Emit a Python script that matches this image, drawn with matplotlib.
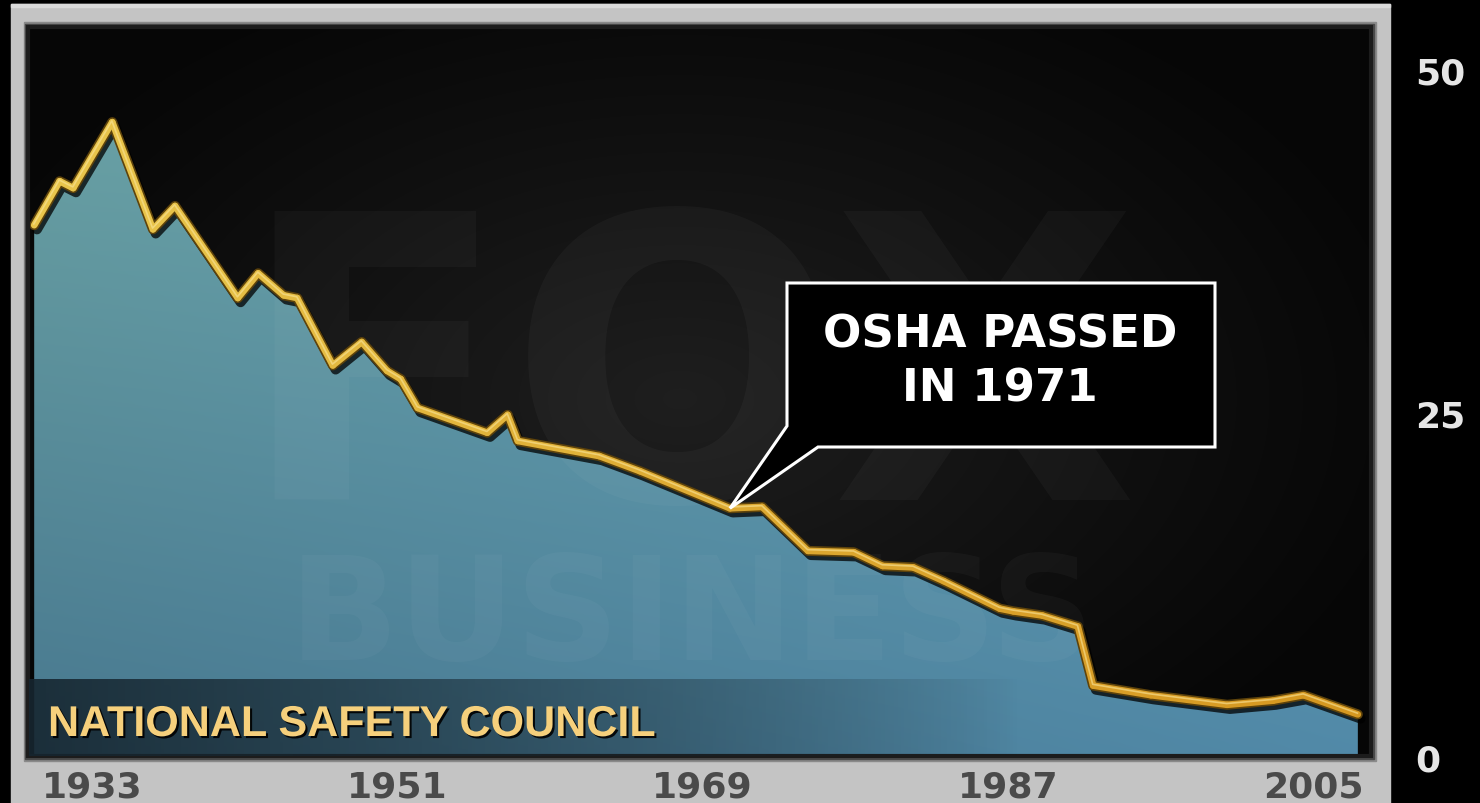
import matplotlib
matplotlib.use("Agg")
import matplotlib.pyplot as plt
import matplotlib.patheffects as pe
from matplotlib.collections import LineCollection
from matplotlib.colors import LinearSegmentedColormap
from matplotlib.patches import Polygon, Rectangle
import numpy as np

# mortes no trabalho por 100 mil trabalhadores
anos = [1929.6, 1931.1, 1931.9, 1934.2, 1936.6, 1937.9, 1941.6, 1942.8, 1944.3, 1945.1,
        1947.2, 1948.9, 1950.4, 1951.2, 1952.2, 1956.3, 1957.5, 1958.1, 1962.9, 1965.3,
        1970.6, 1972.5, 1975.2, 1977.9, 1979.6, 1981.4, 1983.2, 1986.5, 1987.3, 1989.0,
        1991.1, 1992.0, 1995.4, 1999.9, 2002.6, 2004.4, 2007.6]
taxa = [38.7, 41.9, 41.4, 46.2, 38.4, 40.1, 33.4, 35.2, 33.6, 33.4,
        28.5, 30.2, 28.1, 27.5, 25.4, 23.6, 24.9, 23.0, 21.9, 20.8,
        18.1, 18.2, 15.0, 14.9, 13.9, 13.8, 12.8, 10.8, 10.6, 10.3,
        9.5, 5.2, 4.5, 3.8, 4.1, 4.5, 3.1]
anos_rotulo = [1933, 1951, 1969, 1987, 2005]
taxa_rotulo = [0, 25, 50]
fonte = "NATIONAL SAFETY COUNCIL"
nota = ["OSHA PASSED", "IN 1971"]
ano_nota = 1970.6

W, H = 1480, 804
fig = plt.figure(figsize=(W / 100, H / 100), dpi=100, facecolor="black")

# moldura prateada (coordenadas em pixels)
fundo = fig.add_axes([0, 0, 1, 1], zorder=0)
fundo.set_xlim(0, W)
fundo.set_ylim(H, 0)
fundo.axis("off")
fundo.add_patch(Rectangle((11, 5), 1379, 810, color="#c4c4c4"))
fundo.add_patch(Rectangle((11, 5), 1379, 3, color="#dadada"))
fundo.add_patch(Rectangle((24, 23), 1352, 739, color="#8a8a8a"))
fundo.add_patch(Rectangle((25, 25), 1349, 735, color="#4a4a4a"))

# painel do grafico
px0, px1, py0, py1 = 27, 1372, 27, 758
ax = fig.add_axes([px0 / W, (H - py1) / H, (px1 - px0) / W, (py1 - py0) / H], zorder=1)

# sobreposicao em pixels
topo = fig.add_axes([0, 0, 1, 1], zorder=2)
topo.set_xlim(0, W)
topo.set_ylim(H, 0)
topo.axis("off")
topo.patch.set_alpha(0)

# escala: pixel x = 702.8 + 16.97*(ano-1969), pixel y = 759 - 13.76*taxa
def ano_de_px(x):
    return 1969 + (x - 702.8) / 16.97

def taxa_de_px(y):
    return (759 - y) / 13.76

# fundo escuro com brilho no centro
gx, gy = np.meshgrid(np.linspace(px0, px1, 300), np.linspace(py0, py1, 200))
d = np.sqrt(((gx - 680) / 760) ** 2 + ((gy - 400) / 470) ** 2)
v = 0.025 + 0.095 * np.clip(1 - d, 0, 1) ** 1.1
ax.imshow(np.dstack([v, v, v]), extent=[0, 1, 0, 1], transform=ax.transAxes,
          aspect="auto", zorder=0, interpolation="bilinear")

# area preenchida com degrade
tx = (gx - px0) / (px1 - px0)
ty = (gy - py0) / (py1 - py0)
tl = np.array([0.43, 0.65, 0.65])
tr = np.array([0.42, 0.68, 0.76])
bl = np.array([0.28, 0.47, 0.56])
br = np.array([0.32, 0.54, 0.66])
topo_c = tl * (1 - tx[..., None]) + tr * tx[..., None]
base_c = bl * (1 - tx[..., None]) + br * tx[..., None]
grad = topo_c * (1 - ty[..., None]) + base_c * ty[..., None]
area = ax.fill_between(anos, taxa, 0, color="none", lw=0)
img = ax.imshow(np.clip(grad, 0, 1), extent=[0, 1, 0, 1], transform=ax.transAxes,
                aspect="auto", zorder=2, interpolation="bilinear")
img.set_clip_path(area.get_paths()[0], transform=ax.transData)

# marca d'agua
ax.text(688, 500, "FOX", transform=topo.transData, ha="center", va="baseline",
        fontsize=286, fontweight="bold", color="white", alpha=0.03, zorder=3)
ax.text(692, 660, "BUSINESS", transform=topo.transData, ha="center", va="baseline",
        fontsize=104, fontweight="bold", color="white", alpha=0.03, zorder=3)

# linha dourada em relevo
lx = np.array(anos)
ly = np.array(taxa)
ax.plot(lx, ly, color="#5e430b", lw=7.2, solid_joinstyle="round", solid_capstyle="round",
        zorder=4, path_effects=[pe.SimpleLineShadow(offset=(2, -3), shadow_color="black", alpha=0.75),
                                pe.Normal()])
pts = np.column_stack([lx, ly])
segs = np.stack([pts[:-1], pts[1:]], axis=1)
ouro = LinearSegmentedColormap.from_list("ouro", ["#e9c64c", "#ddaa32", "#d4961f"])
t = (lx[:-1] - lx[0]) / (lx[-1] - lx[0])
ax.add_collection(LineCollection(segs, colors=ouro(t), linewidths=4.8,
                                 capstyle="round", joinstyle="round", zorder=5))
ax.plot(lx, ly, color="#fbe69a", lw=1.2, alpha=0.6, zorder=6,
        path_effects=[pe.Stroke(offset=(-0.3, 0.9))])

ax.set_xlim(ano_de_px(px0), ano_de_px(px1))
ax.set_ylim(taxa_de_px(py1), taxa_de_px(py0))
for s in ax.spines.values():
    s.set_visible(False)

ax.set_xticks(anos_rotulo)
ax.set_xticklabels([str(a) for a in anos_rotulo])
ax.yaxis.tick_right()
ax.set_yticks(taxa_rotulo)
ax.set_yticklabels([str(r) for r in taxa_rotulo])
ax.tick_params(axis="x", length=0, pad=9, labelsize=26, labelcolor="#4a4a4a")
ax.tick_params(axis="y", length=0, pad=31, labelsize=26, labelcolor="#e6e6e6")
for lab in ax.get_xticklabels() + ax.get_yticklabels():
    lab.set_fontweight("bold")

# sombra interna do painel
topo.add_patch(Rectangle((px0 + 1, py0 + 1), px1 - px0 - 2, py1 - py0 - 2, fill=False,
                         edgecolor="#1c1c1c", lw=3, zorder=0.5))

# faixa da fonte
faixa = np.zeros((2, 300, 4))
faixa[..., 0], faixa[..., 1], faixa[..., 2] = 0.09, 0.15, 0.19
faixa[..., 3] = 0.9 * (1 - np.linspace(0, 1, 300)) ** 0.8
topo.imshow(faixa, extent=[px0 + 2, 1020, py1 - 1, 680], aspect="auto", zorder=1)
topo.text(48, 737, fonte, ha="left", va="baseline", fontsize=31, fontweight="bold",
          family="Liberation Sans", color="#f6d07c", zorder=3,
          path_effects=[pe.withSimplePatchShadow(offset=(1.5, -1.5), shadow_rgbFace="black", alpha=0.9)])

# balao da OSHA
i = anos.index(ano_nota)
ponta = topo.transData.inverted().transform(ax.transData.transform((anos[i], taxa[i])))
balao = Polygon([(787, 284), (1215, 284), (1215, 448), (818, 448), tuple(ponta), (787, 427)],
                closed=True, facecolor="black", edgecolor="white", lw=2.2, joinstyle="miter", zorder=4)
topo.add_patch(balao)
topo.text(1000, 348, nota[0], ha="center", va="baseline", fontsize=32.5, fontweight="bold",
          color="white", zorder=5)
topo.text(1000, 402, nota[1], ha="center", va="baseline", fontsize=32.5, fontweight="bold",
          color="white", zorder=5)

fig.savefig("out.png", dpi=100, facecolor="black")
